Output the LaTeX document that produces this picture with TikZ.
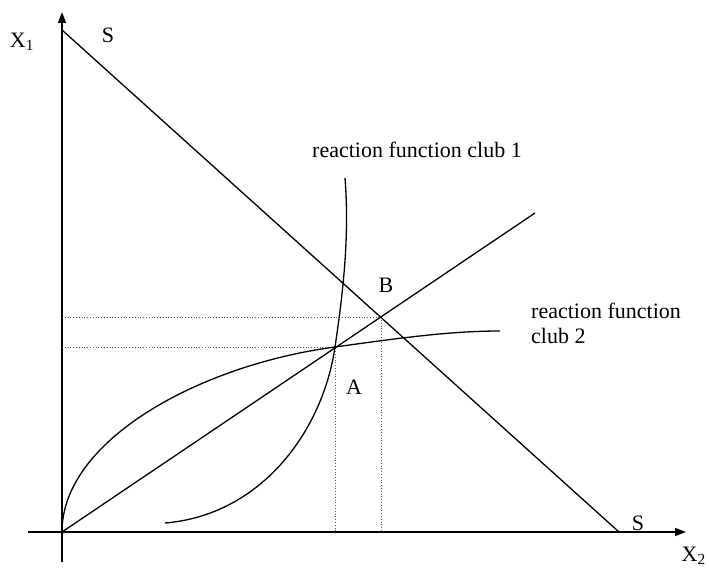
\documentclass[tikz,border=0pt]{standalone}
\usepackage{fontspec}
\setmainfont{Liberation Serif}
\usetikzlibrary{arrows.meta}
\begin{document}
\begin{tikzpicture}[x=1pt,y=-1pt,
  axis/.style={line width=1.5pt,-{Triangle[length=11pt,width=8pt]}},
  curve/.style={line width=1.3pt},
  guide/.style={line width=0.8pt,dotted,gray!70!black},
  lbl/.style={font=\fontsize{22}{25}\selectfont,inner sep=0pt}]
\useasboundingbox (0,0) rectangle (709,572);
% coordinates
\coordinate (O) at (62,532);
\coordinate (ybot) at (62,562);
\coordinate (ytop) at (62,12);
\coordinate (xl) at (28,532);
\coordinate (xr) at (686,532);
\coordinate (Stop) at (62,30);
\coordinate (Sbot) at (619,532);
\coordinate (A) at (335,347);
\coordinate (B) at (381,317);
\coordinate (Rend) at (535,213);
\coordinate (A0) at (62,347);
\coordinate (B0) at (62,317);
\coordinate (Ax) at (335,532);
\coordinate (Bx) at (381,532);
\coordinate (C1s) at (165,523);
\coordinate (C1e) at (345,178);
\coordinate (C2e) at (500,331);
% axes
\draw[axis] (ybot) -- (ytop);
\draw[axis] (xl) -- (xr);
% dotted guides
\draw[guide] (B0) -- (B) -- (Bx);
\draw[guide] (A0) -- (A) -- (Ax);
% lines
\draw[curve] (Stop) -- (Sbot);
\draw[curve] (O) -- (Rend);
% reaction function club 2
\draw[curve] (O) .. controls (62,440) and (200,365) .. (A)
  .. controls (400,338) and (450,331) .. (C2e);
% reaction function club 1
\draw[curve] (C1s) .. controls (262,515) and (323,430) .. (A)
  .. controls (345,280) and (349,230) .. (C1e);
% labels
\node[lbl] (lx1) at (22,42) {X\textsubscript{1}};
\node[lbl,anchor=east] (lx2) at (706,556) {X\textsubscript{2}};
\node[lbl] (lS1) at (108,35) {S};
\node[lbl] (lS2) at (638,523) {S};
\node[lbl] (lA) at (354,387) {A};
\node[lbl] (lB) at (386,285) {B};
\node[lbl,anchor=base west] (r1) at (312,158) {reaction function club 1};
\node[lbl,anchor=base west,align=left] (r2) at (531,343) {reaction function\\club 2};
\end{tikzpicture}
\end{document}
